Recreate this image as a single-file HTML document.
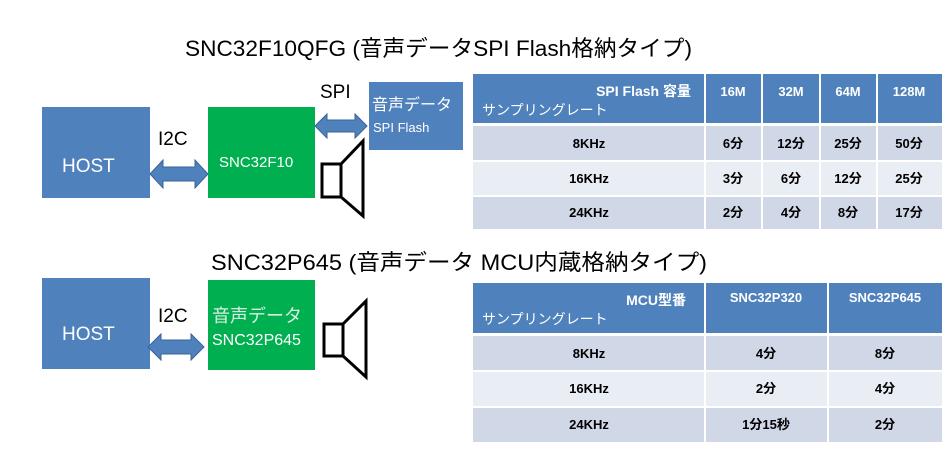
<!DOCTYPE html>
<html><head><meta charset="utf-8"><style>
html,body{margin:0;padding:0;background:#fff;}
svg{display:block;}
text{font-family:"Liberation Sans","Noto Sans CJK JP",sans-serif;}
.b{font-weight:bold;font-size:13px;fill:#000;}
</style></head><body>
<svg width="948" height="456" viewBox="0 0 948 456" xmlns="http://www.w3.org/2000/svg">
<rect width="948" height="456" fill="#fff"/>
<!-- titles -->
<text x="185" y="56" font-size="22" fill="#000" textLength="507" lengthAdjust="spacingAndGlyphs">SNC32F10QFG (音声データSPI Flash格納タイプ)</text>
<text x="211" y="270" font-size="22" fill="#000" textLength="496" lengthAdjust="spacingAndGlyphs">SNC32P645 (音声データ MCU内蔵格納タイプ)</text>

<!-- top diagram -->
<rect x="42" y="107" width="108" height="91" fill="#4f81bd"/>
<text x="62" y="172" font-size="19" fill="#fff">HOST</text>
<rect x="208" y="107" width="107" height="91" fill="#00b050"/>
<text x="219" y="167" font-size="15" fill="#fff">SNC32F10</text>
<rect x="369" y="82" width="94" height="68" fill="#4f81bd"/>
<text x="372" y="110" font-size="16" fill="#fff">音声データ</text>
<text x="373" y="132" font-size="13" fill="#fff">SPI Flash</text>
<text x="158" y="145" font-size="19" fill="#000">I2C</text>
<text x="320" y="98" font-size="19" fill="#000">SPI</text>
<polygon points="150,174 163,160 163,167 195,167 195,160 208,174 195,188 195,181 163,181 163,188" fill="#4f81bd" stroke="#3a6496" stroke-width="1"/>
<polygon points="315,126 327,114 327,120 355,120 355,114 367,126 355,138 355,132 327,132 327,138" fill="#4f81bd" stroke="#3a6496" stroke-width="1"/>
<rect x="322" y="164" width="19" height="33" fill="#fff" stroke="#000" stroke-width="3"/>
<polygon points="341,164 363,141 363,216 341,197" fill="#fff" stroke="#000" stroke-width="3"/>

<!-- bottom diagram -->
<rect x="42" y="278" width="108" height="91" fill="#4f81bd"/>
<text x="62" y="340" font-size="19" fill="#fff">HOST</text>
<rect x="208" y="280" width="107" height="90" fill="#00b050"/>
<text x="212" y="322" font-size="18" fill="#d8f0e0">音声データ</text>
<text x="212" y="345" font-size="16" fill="#fff">SNC32P645</text>
<text x="158" y="322" font-size="19" fill="#000">I2C</text>
<polygon points="148,347 161,334 161,340 191,340 191,334 204,347 191,360 191,354 161,354 161,360" fill="#4f81bd" stroke="#3a6496" stroke-width="1"/>
<rect x="324" y="324" width="19" height="32" fill="#fff" stroke="#000" stroke-width="3"/>
<polygon points="343,324 366,301 366,377 343,356" fill="#fff" stroke="#000" stroke-width="3"/>

<!-- table 1 -->
<rect x="473" y="74" width="469" height="49" fill="#4f81bd"/>
<rect x="473" y="126" width="469" height="34" fill="#d0d8e8"/>
<rect x="473" y="162" width="469" height="33" fill="#e9edf4"/>
<rect x="473" y="197" width="469" height="32" fill="#d0d8e8"/>
<g stroke="#fff" stroke-width="2">
<line x1="705" y1="74" x2="705" y2="229"/><line x1="762" y1="74" x2="762" y2="229"/>
<line x1="820" y1="74" x2="820" y2="229"/><line x1="877" y1="74" x2="877" y2="229"/>
</g>
<text x="691" y="96" font-size="14" font-weight="bold" fill="#fff" text-anchor="end">SPI Flash 容量</text>
<text x="482" y="115" font-size="14" fill="#fff">サンプリングレート</text>
<g font-size="13" font-weight="bold" fill="#fff" text-anchor="middle">
<text x="733" y="96">16M</text><text x="791" y="96">32M</text><text x="848" y="96">64M</text><text x="909" y="96">128M</text>
</g>
<g class="b" text-anchor="middle">
<text x="589" y="148">8KHz</text><text x="733" y="148">6分</text><text x="791" y="148">12分</text><text x="848" y="148">25分</text><text x="909" y="148">50分</text>
<text x="589" y="183">16KHz</text><text x="733" y="183">3分</text><text x="791" y="183">6分</text><text x="848" y="183">12分</text><text x="909" y="183">25分</text>
<text x="589" y="217">24KHz</text><text x="733" y="217">2分</text><text x="791" y="217">4分</text><text x="848" y="217">8分</text><text x="909" y="217">17分</text>
</g>

<!-- table 2 -->
<rect x="473" y="283" width="469" height="50" fill="#4f81bd"/>
<rect x="473" y="336" width="469" height="34" fill="#d0d8e8"/>
<rect x="473" y="372" width="469" height="34" fill="#e9edf4"/>
<rect x="473" y="408" width="469" height="34" fill="#d0d8e8"/>
<g stroke="#fff" stroke-width="2">
<line x1="705" y1="283" x2="705" y2="442"/><line x1="828" y1="283" x2="828" y2="442"/>
</g>
<text x="686" y="305" font-size="14" font-weight="bold" fill="#fff" text-anchor="end">MCU型番</text>
<text x="482" y="324" font-size="14" fill="#fff">サンプリングレート</text>
<g font-size="13" font-weight="bold" fill="#fff" text-anchor="middle">
<text x="766" y="302">SNC32P320</text><text x="885" y="302">SNC32P645</text>
</g>
<g class="b" text-anchor="middle">
<text x="589" y="358">8KHz</text><text x="766" y="358">4分</text><text x="885" y="358">8分</text>
<text x="589" y="393">16KHz</text><text x="766" y="393">2分</text><text x="885" y="393">4分</text>
<text x="589" y="429">24KHz</text><text x="766" y="429">1分15秒</text><text x="885" y="429">2分</text>
</g>
</svg>
</body></html>
